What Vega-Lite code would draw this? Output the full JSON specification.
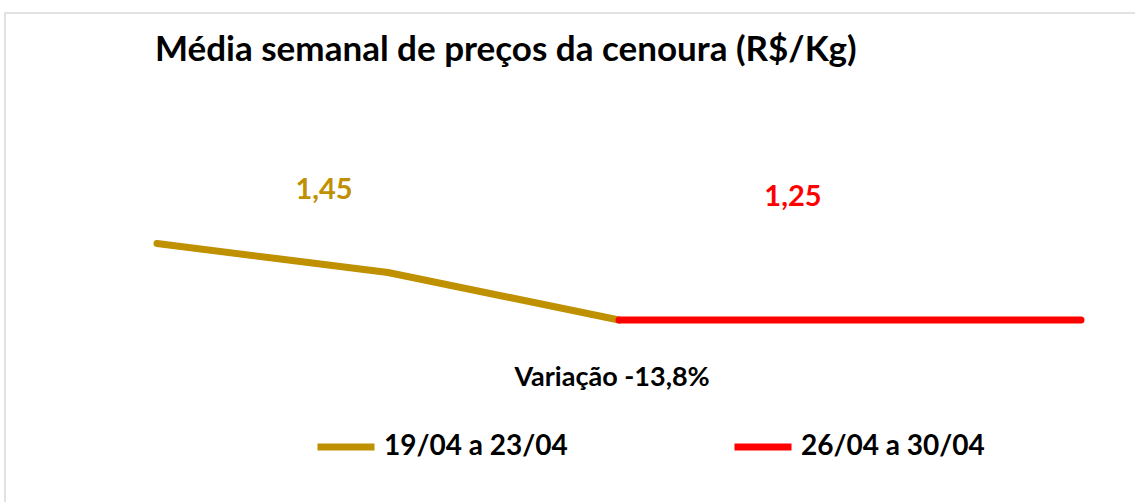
{
  "$schema": "https://vega.github.io/schema/vega-lite/v6.json",
  "width": 1135,
  "height": 494,
  "autosize": {"type": "none"},
  "padding": {"left": 5, "top": 13, "right": -5, "bottom": -5},
  "background": "white",
  "view": {"stroke": "#d9d9d9", "strokeWidth": 1.5, "fill": "white"},
  "config": {"font": "Lato"},
  "title": {
    "text": "Média semanal de preços da cenoura (R$/Kg)",
    "anchor": "start",
    "frame": "group",
    "orient": "top",
    "baseline": "alphabetic",
    "offset": -83,
    "dx": 150,
    "font": "Lato",
    "fontSize": 35,
    "fontWeight": "bold",
    "color": "#000000"
  },
  "datasets": {
    "precos": [
      {"ponto": 0, "preco": 1.62, "semana": "19/04 a 23/04"},
      {"ponto": 1, "preco": 1.48, "semana": "19/04 a 23/04"},
      {"ponto": 2, "preco": 1.25, "semana": "19/04 a 23/04"},
      {"ponto": 2, "preco": 1.25, "semana": "26/04 a 30/04"},
      {"ponto": 3, "preco": 1.25, "semana": "26/04 a 30/04"},
      {"ponto": 4, "preco": 1.25, "semana": "26/04 a 30/04"}
    ],
    "medias": [
      {"semana": "19/04 a 23/04", "rotulo": "1,45"},
      {"semana": "26/04 a 30/04", "rotulo": "1,25"}
    ],
    "variacao": [
      {"rotulo": "Variação -13,8%"}
    ]
  },
  "layer": [
    {
      "data": {"name": "precos"},
      "mark": {"type": "line", "strokeWidth": 7, "strokeCap": "round", "strokeJoin": "round"},
      "encoding": {
        "x": {"field": "ponto", "type": "quantitative", "axis": null,
              "scale": {"domain": [-0.658, 4.2554], "nice": false, "zero": false}},
        "y": {"field": "preco", "type": "quantitative", "axis": null,
              "scale": {"domain": [0.3452, 2.7355], "nice": false, "zero": false}},
        "color": {
          "field": "semana", "type": "nominal",
          "scale": {"domain": ["19/04 a 23/04", "26/04 a 30/04"], "range": ["#BF9000", "#FF0000"]},
          "legend": {
            "title": null,
            "orient": "none",
            "direction": "horizontal",
            "legendX": 309,
            "legendY": 402,
            "padding": 0,
            "symbolType": "stroke",
            "symbolSize": 3249,
            "symbolStrokeWidth": 7,
            "labelFont": "Lato",
            "labelFontSize": 28,
            "labelFontWeight": "bold",
            "labelColor": "#000000",
            "labelOffset": 6,
            "labelLimit": 0,
            "columnPadding": 152
          }
        }
      }
    },
    {
      "data": {"name": "medias"},
      "transform": [{"filter": "datum.semana === '19/04 a 23/04'"}],
      "mark": {"type": "text", "font": "Lato", "fontSize": 29, "fontWeight": "bold", "color": "#BF9000", "baseline": "middle", "align": "center"},
      "encoding": {
        "x": {"datum": 0.723, "type": "quantitative"},
        "y": {"datum": 1.879, "type": "quantitative"},
        "text": {"field": "rotulo"}
      }
    },
    {
      "data": {"name": "medias"},
      "transform": [{"filter": "datum.semana === '26/04 a 30/04'"}],
      "mark": {"type": "text", "font": "Lato", "fontSize": 29, "fontWeight": "bold", "color": "#FF0000", "baseline": "middle", "align": "center"},
      "encoding": {
        "x": {"datum": 2.753, "type": "quantitative"},
        "y": {"datum": 1.845, "type": "quantitative"},
        "text": {"field": "rotulo"}
      }
    },
    {
      "data": {"name": "variacao"},
      "mark": {"type": "text", "font": "Lato", "fontSize": 27, "fontWeight": "bold", "color": "#000000", "baseline": "middle", "align": "center"},
      "encoding": {
        "x": {"datum": 1.97, "type": "quantitative"},
        "y": {"datum": 0.969, "type": "quantitative"},
        "text": {"field": "rotulo"}
      }
    }
  ]
}
